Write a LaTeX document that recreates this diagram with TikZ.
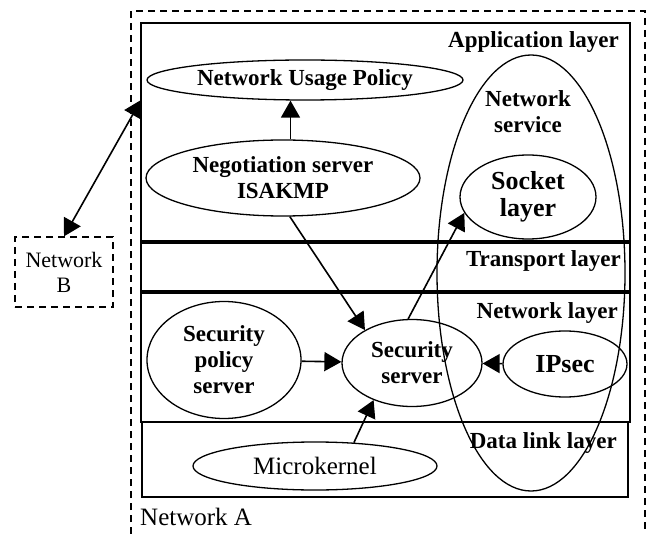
\documentclass[tikz,border=0pt]{standalone}
\usepackage{fontspec}
\setmainfont{Liberation Serif}
\usetikzlibrary{positioning,arrows.meta,shapes.geometric}
\tikzset{%
netline/.style={draw,line width=1.3pt,dash pattern=on 7pt off 5pt},
layer/.style={draw,rectangle,line width=1.8pt,inner sep=0},
layerrule/.style={line width=3.6pt},
layerlabel/.style={font=\fontsize{23}{26}\selectfont\bfseries,anchor=base east,inner sep=0},
proc/.style={draw,ellipse,line width=1.3pt,inner sep=0,align=center,font=\fontsize{23}{26}\selectfont\bfseries},
flow/.style={-{Triangle[length=17pt,width=19pt]},line width=1.6pt},
both/.style={{Triangle[length=17pt,width=19pt]}-{Triangle[length=17pt,width=19pt]},line width=1.6pt}
}

\begin{document}
\begin{tikzpicture}[x=1pt,y=-1pt]
    \useasboundingbox (0,0) rectangle (647,534);

    % network A and its layers
    \draw[netline] (131,534) |- (645,11) -- (645,534);
    \node[layer,minimum width=489,minimum height=399] (stack) at (385.5,222.5) {};
    \node[layer,minimum width=486,minimum height=75] (dll) at (385,459.5) {};
    \draw[layerrule] (stack.west |- 0,242) -- (stack.east |- 0,242);
    \draw[layerrule] (stack.west |- 0,292) -- (stack.east |- 0,292);
    \coordinate (appedge) at (141,100);

    \node[layerlabel] (lapp) at (619,48) {Application layer};
    \node[layerlabel] (ltr) at (621,267) {Transport layer};
    \node[layerlabel] (lnet) at (618,318) {Network layer};
    \node[layerlabel] (ldl) at (617,448) {Data link layer};
    \node[anchor=base west,inner sep=0,font=\fontsize{25}{28}\selectfont] (neta) at (140,525) {Network A};

    % network service spans the layers
    \node[draw,ellipse,line width=1.3pt,minimum width=188,minimum height=436] (nsvc) at (531,273) {};
    \node[align=center,inner sep=0,font=\fontsize{23}{26}\selectfont\bfseries] (lnsvc) at (528,112) {Network\\service};

    % processes
    \node[proc,minimum width=316,minimum height=40] (nup) at (305,80) {Network Usage Policy};
    \node[proc,minimum width=274,minimum height=76] (neg) at (283,178) {Negotiation server\\ISAKMP};
    \node[proc,minimum width=136,minimum height=84,font=\fontsize{26}{27}\selectfont\bfseries] (sock) at (528,197) {Socket\\layer};
    \node[proc,minimum width=154,minimum height=117] (spol) at (224,360) {Security\\policy\\server};
    \node[proc,minimum width=140,minimum height=87] (secs) at (412,363) {Security\\server};
    \node[proc,minimum width=124,minimum height=66,font=\fontsize{26}{27}\selectfont\bfseries] (ipsec) at (565,364) {IPsec};
    \node[proc,minimum width=244,minimum height=48,font=\fontsize{25}{28}\selectfont] (mk) at (315,466) {Microkernel};

    % network B
    \node[netline,rectangle,minimum width=98,minimum height=70,inner sep=0,align=center,
          font=\fontsize{22}{25}\selectfont] (nb) at (64,272) {Network\\B};

    \path[flow] (neg.79) edge (neg.79 |- nup.south)
                (neg.-80) edge (secs.145)
                (secs.95) edge (sock.194)
                (spol) edge (secs)
                (ipsec) edge (secs)
                (mk.31) edge (secs.-136);
    \draw[both] (nb.north) -- (appedge);
\end{tikzpicture}
\end{document}
